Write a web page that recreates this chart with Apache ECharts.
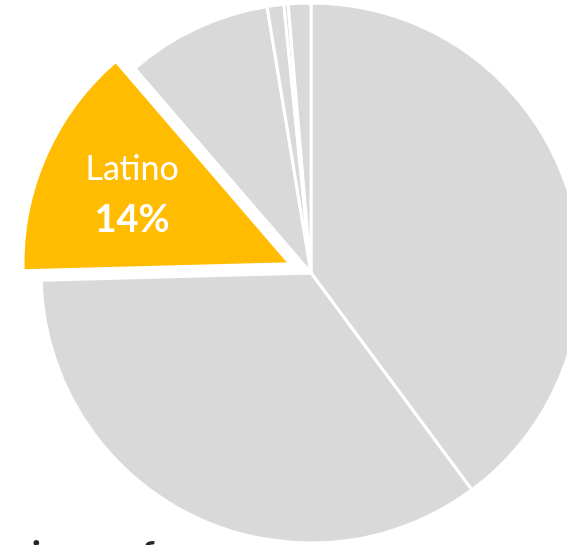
<!DOCTYPE html>
<html>
<head>
<meta charset="utf-8">
<script src="https://cdn.jsdelivr.net/npm/echarts@6/dist/echarts.min.js"></script>
<style>
html,body{margin:0;padding:0;background:#fff;overflow:hidden;}
#chart{width:567px;height:545px;}
</style>
</head>
<body>
<div id="chart"></div>
<script>
const categories = ['White', 'Black', 'Latino', 'Asian', 'Native American', 'Pacific Islander', 'Multiracial'];
const shares = [39.8, 34.7, 14.1, 8.7, 1.0, 0.25, 1.35];
const highlighted = 'Latino';
const footerText = 'Americans of';

const GRAY = '#D9D9D9';
const GOLD = '#FFBC00';

const baseData = categories.map((name, i) => ({
  name: name,
  value: shares[i],
  itemStyle: name === highlighted
    ? { color: 'rgba(0,0,0,0)', borderWidth: 0 }
    : { color: GRAY, borderColor: '#fff', borderWidth: 3 }
}));

const hiData = categories.map((name, i) => ({
  name: name,
  value: shares[i],
  selected: name === highlighted,
  itemStyle: name === highlighted
    ? { color: GOLD, borderColor: '#fff', borderWidth: 3 }
    : { color: 'rgba(0,0,0,0)', borderWidth: 0 },
  label: { show: name === highlighted }
}));

const chart = echarts.init(document.getElementById('chart'), null, { renderer: 'canvas' });
chart.setOption({
  animation: false,
  backgroundColor: '#fff',
  graphic: [{
    type: 'text',
    left: -56,
    top: 537,
    style: {
      text: footerText,
      font: 'bold 36px Lato',
      fill: '#262626'
    }
  }],
  series: [
    {
      type: 'pie',
      center: [311, 273],
      radius: [0, 270],
      startAngle: 90,
      clockwise: true,
      silent: true,
      label: { show: false },
      labelLine: { show: false },
      data: baseData
    },
    {
      type: 'pie',
      center: [311, 273],
      radius: [0, 267],
      startAngle: 90,
      clockwise: true,
      silent: true,
      selectedMode: 'single',
      selectedOffset: 23,
      label: {
        show: false,
        position: 'inside',
        formatter: p => '{a|' + p.name + '}\n{b|' + Math.round(p.value) + '%}',
        rich: {
          a: { fontFamily: 'Lato', fontSize: 34, color: '#fff', lineHeight: 51, align: 'center' },
          b: { fontFamily: 'Lato', fontSize: 38, fontWeight: 'bold', color: '#fff', lineHeight: 51, align: 'center' }
        }
      },
      labelLayout: { dx: -33, dy: -14 },
      labelLine: { show: false },
      data: hiData
    }
  ]
});
</script>
</body>
</html>
